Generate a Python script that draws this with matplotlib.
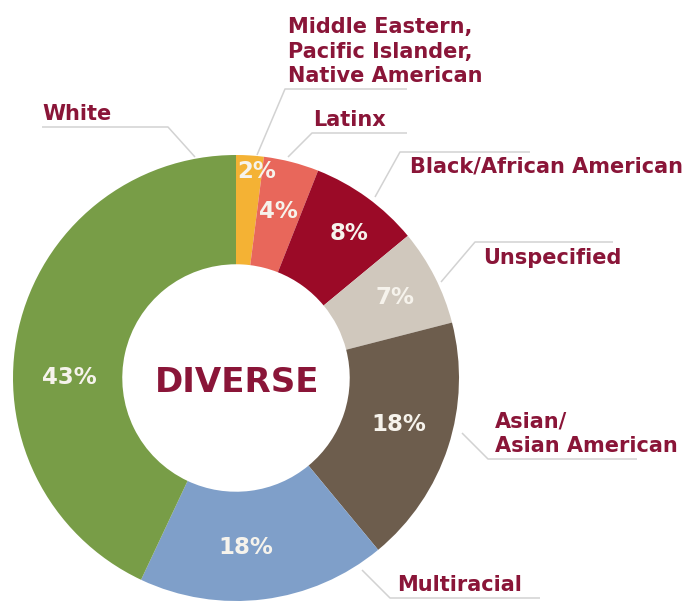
import matplotlib.pyplot as plt
import numpy as np

# Share of each group, in drawing order (clockwise from 12 o'clock)
groups = ["Middle Eastern,\nPacific Islander,\nNative American", "Latinx",
          "Black/African American", "Unspecified", "Asian/\nAsian American",
          "Multiracial", "White"]
shares = [2, 4, 8, 7, 18, 18, 43]
colors = ["#F4B234", "#E8675B", "#9B0A27", "#D0C8BD", "#6D5D4D", "#7F9FC9", "#789D47"]

label_color = "#8A1538"
line_color = "#D2D2D2"
font = "DejaVu Sans"

# canvas is in pixels, pie centred at (236, 378) with radius 223
cx, cy, R = 236, 378, 223


def px(x, y):
    return (x - cx) / R, (cy - y) / R


fig = plt.figure(figsize=(6.95, 6.04), dpi=100)
ax = fig.add_axes([0, 0, 1, 1])

wedges, _ = ax.pie(shares, colors=colors, startangle=90, counterclock=False,
                   radius=1, wedgeprops=dict(width=0.49, edgecolor="none"))

# percentage labels inside the ring
pct_radius = [0.93, 0.77, 0.82, 0.80, 0.76, 0.76, 0.745]
pct_shift = [-2, 0, -2, 0, 2, -4, 12.5]
for w, v, r, s in zip(wedges, shares, pct_radius, pct_shift):
    theta = np.deg2rad((w.theta1 + w.theta2) / 2 + s)
    ax.text(r * np.cos(theta), r * np.sin(theta), f"{v}%", color="#F6F3EC",
            fontsize=16.5, fontweight="bold", family=font,
            ha="center", va="center")

ax.text(*px(237, 382), "DIVERSE", color=label_color, fontsize=24.5,
        fontweight="bold", family=font, ha="center", va="center")

# leader lines: wedge edge -> elbow -> end, then the label text
leaders = [
    # (touch point, elbow, end, text anchor, va)
    ((257, 155), (285, 89), (407, 89), (288, 86), "bottom"),
    ((288, 157), (312, 133), (407, 133), (313, 130), "bottom"),
    ((375, 197), (400, 152), (530, 152), (410, 167), "center"),
    ((441, 282), (475, 242), (613, 242), (483, 258), "center"),
    ((462, 433), (488, 459), (637, 459), (495, 456), "bottom"),
    ((362, 570), (390, 598), (540, 598), (397, 595), "bottom"),
    ((195, 157), (168, 127), (42, 127), (42, 124), "bottom"),
]
for name, (p0, p1, p2, pt, va) in zip(groups, leaders):
    xs, ys = zip(px(*p0), px(*p1), px(*p2))
    ax.plot(xs, ys, color=line_color, lw=1.1, solid_capstyle="butt")
    ax.text(*px(*pt), name, color=label_color, fontsize=15, fontweight="bold",
            family=font, ha="left", va=va, linespacing=1.28)

x0, y0 = px(0, 604)
x1, y1 = px(695, 0)
ax.set_xlim(x0, x1)
ax.set_ylim(y0, y1)
ax.set_aspect("equal")
ax.axis("off")

plt.savefig("out.png", dpi=100)
